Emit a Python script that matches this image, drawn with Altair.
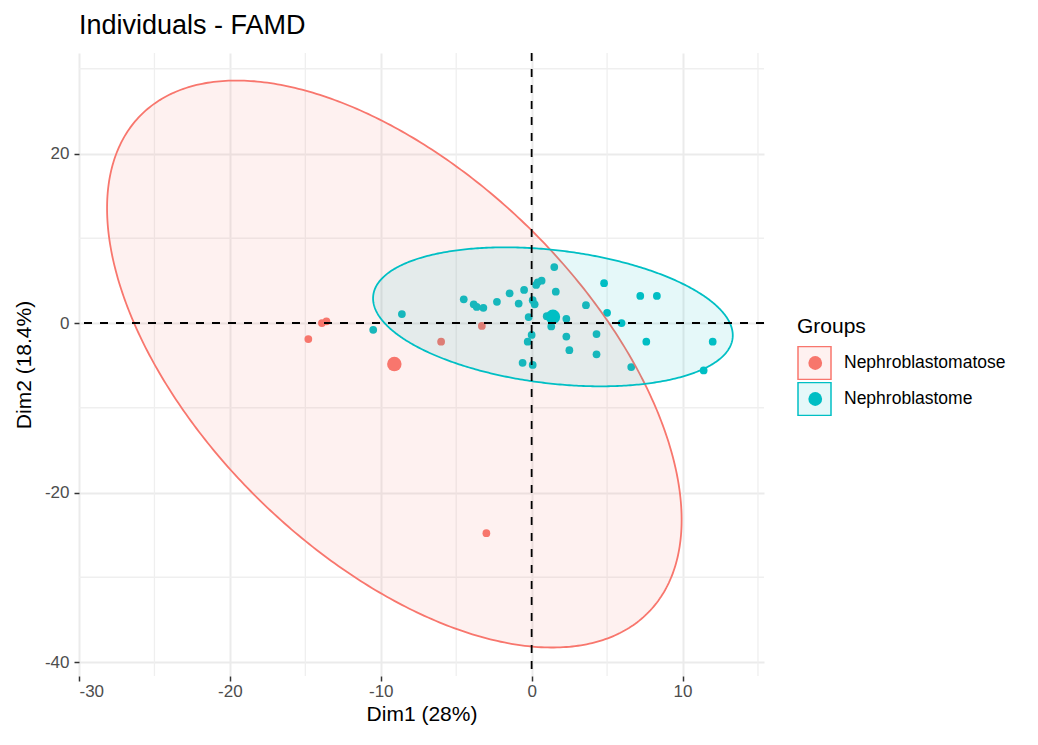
import altair as alt
import numpy as np
import pandas as pd

# ---------------- data ----------------
groups = ["Nephroblastomatose", "Nephroblastome"]
point_colors = ["#F8766D", "#00BFC4"]
ellipse_fills = ["rgba(248,118,109,0.1)", "rgba(0,191,196,0.1)"]

# individuals (Dim1, Dim2)
red_x = [-13.9, -13.6, -14.8, -6.0, -3.3, -3.0]
red_y = [0.0, 0.2, -1.9, -2.2, -0.35, -24.8]

blue_x = [-10.5, -8.6, -4.5, -3.84, -3.64, -3.2, -2.3, -1.46, -0.86, -0.5,
          0.07, 0.2, -0.2, 0.3, 0.4, 0.66, 1.5, 1.6, 1.0, 1.5,
          1.3, 2.3, 2.3, 2.5, 0.0, -0.26, -0.6, 0.07, 3.6, 4.8,
          5.0, 4.3, 4.3, 5.96, 6.6, 7.2, 8.3, 7.6, 12.0, 11.4]
blue_y = [-0.8, 1.06, 2.8, 2.2, 1.9, 1.8, 2.5, 3.5, 2.3, 3.9,
          2.7, 2.2, 0.7, 4.5, 4.8, 5.0, 6.6, 3.7, 0.8, 0.8,
          -0.4, 0.5, -1.6, -3.2, -1.4, -2.2, -4.7, -4.95, 2.1, 4.7,
          1.2, -1.3, -3.7, 0.0, -5.2, 3.2, 3.2, -2.2, -2.2, -5.6]

# group mean points
mean_x = [-9.1, 1.41]
mean_y = [-4.84, 0.73]

# confidence ellipses: centre, sd along Dim1, sd along Dim2, covariance
ell_cx = [-9.1, 1.41]
ell_cy = [-4.84, 0.73]
ell_sx = [19.04, 11.92]
ell_sy = [33.45, 8.2]
ell_cov = [-350.0, -26.0]

# grid / tick values
x_major = [-30, -20, -10, 0, 10]
y_major = [20, 0, -20, -40]
x_minor = [-25, -15, -5, 5, 15]
y_minor = [30, 10, -10, -30]
x_domain = [-30.0, 15.4]
y_domain = [-41.65, 31.86]

# ---------------- tables ----------------
pts = pd.DataFrame({
    "x": red_x + blue_x,
    "y": red_y + blue_y,
    "group": [groups[0]] * len(red_x) + [groups[1]] * len(blue_x),
})
means = pd.DataFrame({"x": mean_x, "y": mean_y, "group": groups})

rows = []
theta = np.linspace(np.pi, 0, 241)
for g, cx, cy, sx, sy, c in zip(groups, ell_cx, ell_cy, ell_sx, ell_sy, ell_cov):
    dx = sx * np.cos(theta)
    mid = cy + c / sx ** 2 * dx
    half = np.sqrt(sy ** 2 - c ** 2 / sx ** 2) * np.sqrt(np.clip(1 - (dx / sx) ** 2, 0, None))
    for xi, m, h in zip(cx + dx, mid, half):
        rows.append({"x": float(xi), "ylo": float(m - h), "yhi": float(m + h), "group": g})
ell = pd.DataFrame(rows)

xminor_df = pd.DataFrame({"v": x_minor})
yminor_df = pd.DataFrame({"v": y_minor})
zero_df = pd.DataFrame({"v": [0]})

# ---------------- scales / axes ----------------
xs = alt.Scale(domain=x_domain, nice=False, zero=False)
ys = alt.Scale(domain=y_domain, nice=False, zero=False)
axis_common = dict(domain=False, grid=True, gridColor="#EBEBEB", gridWidth=2,
                   tickSize=5, tickWidth=1.5, tickColor="#333333",
                   labelFontSize=17, labelColor="#4D4D4D",
                   labelExpr="toString(datum.value)",
                   titleFontSize=21, titleFontWeight="normal", titleColor="black")
xaxis = alt.Axis(values=x_major, title="Dim1 (28%)", labelPadding=2, titlePadding=4,
                 **axis_common)
yaxis = alt.Axis(values=y_major, title="Dim2 (18.4%)", labelPadding=5, titlePadding=10,
                 **axis_common)

common_legend = dict(orient="none", legendX=718, clipHeight=34, rowPadding=2,
                     labelFontSize=17.5, labelOffset=12, labelLimit=400, padding=0,
                     labelColor="black")

color_scale = alt.Scale(domain=groups, range=point_colors)

minor_v = alt.Chart(xminor_df).mark_rule(color="#EFEFEF", strokeWidth=1.3).encode(
    x=alt.X("v:Q", scale=xs, axis=xaxis))
minor_h = alt.Chart(yminor_df).mark_rule(color="#EFEFEF", strokeWidth=1.3).encode(
    y=alt.Y("v:Q", scale=ys, axis=yaxis))

points = alt.Chart(pts).mark_circle(size=60, opacity=1).encode(
    x=alt.X("x:Q", scale=xs, axis=xaxis),
    y=alt.Y("y:Q", scale=ys, axis=yaxis),
    color=alt.Color("group:N", scale=color_scale,
                    legend=alt.Legend(title=None, legendY=293, symbolType="circle",
                                      symbolSize=190, symbolOffset=9.5,
                                      symbolStrokeWidth=0, labelExpr="''",
                                      **common_legend)),
)

area_legend = alt.Legend(title="Groups", legendY=263, titleFontSize=21, titlePadding=9,
                         titleColor="black", titleFontWeight="normal",
                         symbolType="square", symbolSize=1089, symbolStrokeWidth=1.5,
                         **common_legend)
ellipses = alt.Chart(ell).mark_area(strokeWidth=1.8, interpolate="linear").encode(
    x=alt.X("x:Q", scale=xs, axis=xaxis),
    y=alt.Y("yhi:Q", scale=ys, axis=yaxis),
    y2="ylo:Q",
    fill=alt.Fill("group:N", scale=alt.Scale(domain=groups, range=ellipse_fills),
                  legend=area_legend),
    stroke=alt.Stroke("group:N", scale=alt.Scale(domain=groups, range=point_colors),
                      legend=area_legend),
)

mean_pts = alt.Chart(means).mark_circle(size=210, opacity=1).encode(
    x=alt.X("x:Q", scale=xs, axis=xaxis),
    y=alt.Y("y:Q", scale=ys, axis=yaxis),
    color=alt.Color("group:N", scale=color_scale, legend=None),
)

vline = alt.Chart(zero_df).mark_rule(color="black", strokeWidth=1.8, strokeDash=[8, 8]).encode(
    x=alt.X("v:Q", scale=xs, axis=xaxis))
hline = alt.Chart(zero_df).mark_rule(color="black", strokeWidth=1.8, strokeDash=[8, 8]).encode(
    y=alt.Y("v:Q", scale=ys, axis=yaxis))

chart = alt.layer(minor_v, minor_h, points, ellipses, mean_pts, vline, hline).properties(
    width=685, height=623,
    title=alt.TitleParams("Individuals - FAMD", anchor="start", fontSize=27,
                          fontWeight="normal", color="black", offset=12, frame="group"),
    autosize=alt.AutoSizeParams(type="none"),
    padding={"left": 71, "top": 45, "right": 250, "bottom": 55},
).resolve_scale(color="independent", fill="independent", stroke="independent").configure(
    font="Liberation Sans",
).configure_view(stroke=None)

chart.save("out.html", embed_options={"renderer": "svg", "actions": False})
